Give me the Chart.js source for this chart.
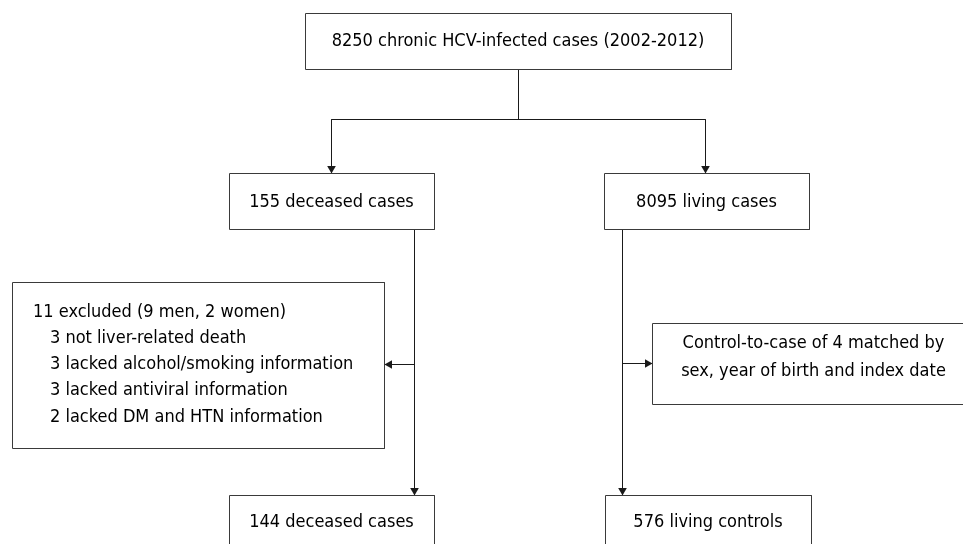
<!DOCTYPE html>
<html>
<head>
<meta charset="utf-8">
<script src="https://cdn.jsdelivr.net/npm/chart.js@4/dist/chart.umd.min.js"></script>
<style>
  html, body { margin: 0; padding: 0; background: #fff; }
  #wrap { width: 963px; height: 544px; }
</style>
</head>
<body>
<div id="wrap"><canvas id="flow" width="963" height="544"></canvas></div>
<script>
// counts shown in the flow
const cohortTotal = 8250;
const studyYears = ['2002', '2012'];
const splitCounts = [155, 8095];
const splitLabels = ['deceased cases', 'living cases'];
const excludedMen = 9;
const excludedWomen = 2;
const exclusionCounts = [3, 3, 3, 2];
const exclusionReasons = [
  'not liver-related death',
  'lacked alcohol/smoking information',
  'lacked antiviral information',
  'lacked DM and HTN information'
];
const matchRatio = 4;
const finalCounts = [144, 576];
const finalLabels = ['deceased cases', 'living controls'];

const FONT = '18px "DejaVu Sans Condensed", "DejaVu Sans", sans-serif';
const BOX_COLOR = '#3a3a3a';
const LINE_COLOR = '#1a1a1a';

// layout of boxes (pixel space of the 963x544 page)
const boxes = [
  { x0: 305, x1: 731, y0: 13, y1: 69, align: 'center', textY: 41,
    lines: [`${cohortTotal} chronic HCV-infected cases (${studyYears.join('-')})`] },
  { x0: 229, x1: 434, y0: 173, y1: 229, align: 'center', textY: 202.5,
    lines: [`${splitCounts[0]} ${splitLabels[0]}`] },
  { x0: 604, x1: 809, y0: 173, y1: 229, align: 'center', textY: 202.5,
    lines: [`${splitCounts[1]} ${splitLabels[1]}`] },
  { x0: 12, x1: 384, y0: 282, y1: 448, align: 'left', textX: [33, 50], lineGap: 26.2, textY: 364.5,
    lines: [`${exclusionCounts.reduce((a, b) => a + b, 0)} excluded (${excludedMen} men, ${excludedWomen} women)`]
      .concat(exclusionReasons.map((r, i) => `${exclusionCounts[i]} ${r}`)) },
  { x0: 652, x1: 975, y0: 323, y1: 404, align: 'center', lineGap: 28, textY: 357.5,
    lines: [`Control-to-case of ${matchRatio} matched by`, 'sex, year of birth and index date'] },
  { x0: 229, x1: 434, y0: 495, y1: 560, align: 'center', textY: 522,
    lines: [`${finalCounts[0]} ${finalLabels[0]}`] },
  { x0: 605, x1: 811, y0: 495, y1: 560, align: 'center', textY: 522,
    lines: [`${finalCounts[1]} ${finalLabels[1]}`] }
];

// connectors: from, to, arrow at end or not
const connectors = [
  { from: [518, 69], to: [518, 119], arrow: false },
  { from: [331, 119], to: [705, 119], arrow: false },
  { from: [331, 119], to: [331, 173], arrow: true },
  { from: [705, 119], to: [705, 173], arrow: true },
  { from: [414, 229], to: [414, 495], arrow: true },
  { from: [414, 364], to: [384, 364], arrow: true },
  { from: [622, 229], to: [622, 495], arrow: true },
  { from: [622, 363], to: [652, 363], arrow: true }
];

const px = v => Math.round(v) + 0.5;

const datasets = [];

boxes.forEach(b => {
  const x0 = px(b.x0), x1 = px(b.x1), y0 = px(b.y0), y1 = px(b.y1);
  datasets.push({
    type: 'line',
    data: [{ x: x0, y: y0 }, { x: x1, y: y0 }, { x: x1, y: y1 }, { x: x0, y: y1 }, { x: x0, y: y0 }],
    borderColor: BOX_COLOR,
    borderWidth: 1,
    pointRadius: 0,
    fill: false,
    tension: 0
  });
});

const ARROW_R = 5;
connectors.forEach(c => {
  const [ax, ay] = c.from;
  const [bx, by] = c.to;
  datasets.push({
    type: 'line',
    data: [{ x: px(ax), y: px(ay) }, { x: px(bx), y: px(by) }],
    borderColor: LINE_COLOR,
    borderWidth: 1,
    pointRadius: 0,
    fill: false
  });
  if (c.arrow) {
    const dx = Math.sign(bx - ax), dy = Math.sign(by - ay);
    // triangle pointStyle points up; rotate clockwise to match the direction
    let rot = 0;
    if (dy > 0) rot = 180;
    else if (dx > 0) rot = 90;
    else if (dx < 0) rot = 270;
    datasets.push({
      type: 'scatter',
      data: [{ x: px(bx) - dx * ARROW_R, y: px(by) - dy * ARROW_R }],
      pointStyle: 'triangle',
      rotation: rot,
      pointRadius: ARROW_R,
      backgroundColor: LINE_COLOR,
      borderColor: LINE_COLOR,
      borderWidth: 0
    });
  }
});

const boxText = {
  id: 'boxText',
  afterDatasetsDraw(chart) {
    const { ctx, scales: { x, y } } = chart;
    ctx.save();
    ctx.font = FONT;
    ctx.fillStyle = '#000';
    ctx.textBaseline = 'middle';
    boxes.forEach(b => {
      const gap = b.lineGap || 26;
      const cy = b.textY !== undefined ? b.textY : (b.y0 + b.y1) / 2;
      const startY = cy - (b.lines.length - 1) * gap / 2;
      b.lines.forEach((line, i) => {
        const ty = y.getPixelForValue(startY + i * gap);
        if (b.align === 'left') {
          ctx.textAlign = 'left';
          const tx = i === 0 ? b.textX[0] : b.textX[1];
          ctx.fillText(line, x.getPixelForValue(tx), ty);
        } else {
          ctx.textAlign = 'center';
          ctx.fillText(line, x.getPixelForValue((b.x0 + b.x1) / 2), ty);
        }
      });
    });
    ctx.restore();
  }
};

new Chart(document.getElementById('flow'), {
  type: 'scatter',
  data: { datasets },
  options: {
    responsive: false,
    animation: false,
    events: [],
    layout: { padding: 0, autoPadding: false },
    plugins: { legend: { display: false }, tooltip: { enabled: false } },
    scales: {
      x: { type: 'linear', min: 0, max: 963, display: false },
      y: { type: 'linear', min: 0, max: 544, reverse: true, display: false }
    }
  },
  plugins: [boxText]
});
</script>
</body>
</html>
